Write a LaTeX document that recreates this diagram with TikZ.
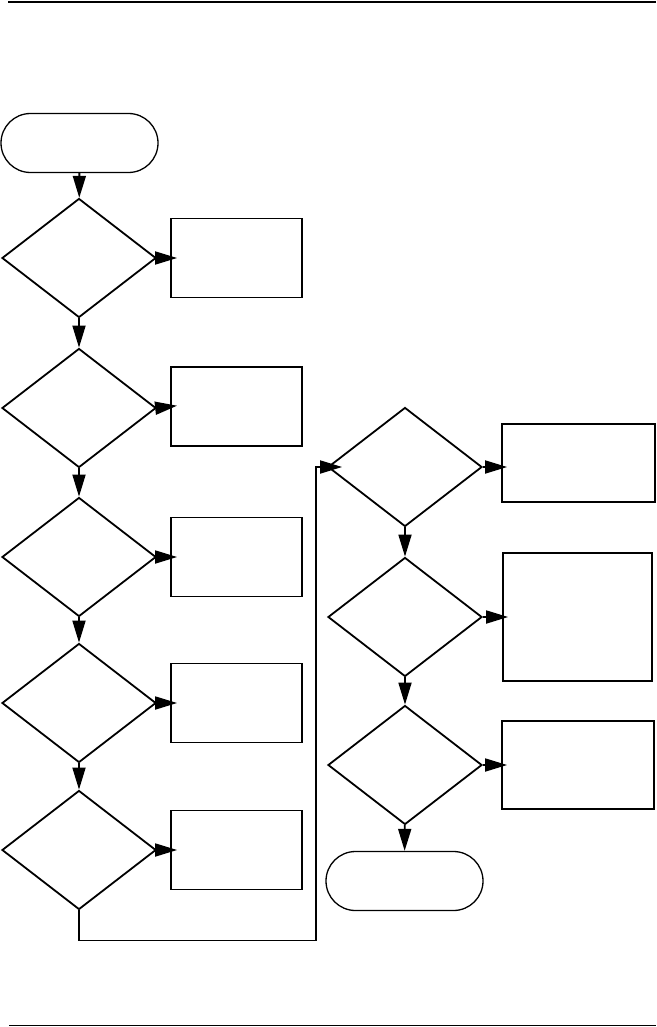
\documentclass[tikz,border=0pt]{standalone}
\usetikzlibrary{shapes.geometric,shapes.misc,arrows.meta}

\tikzset{
    terminal/.style={rounded rectangle, draw, line width=1.3pt, inner sep=0pt, minimum width=157pt, minimum height=59pt},
    decision/.style={diamond, draw, line width=1.8pt, inner sep=0pt, minimum width=154pt, minimum height=119pt},
    process/.style={rectangle, draw, line width=1.8pt, inner sep=0pt},
    flow/.style={line width=1.8pt, -{Triangle[length=22pt,width=13pt]}}
}

\begin{document}
\begin{tikzpicture}[x=1pt, y=-1pt]
    \useasboundingbox (0,0) rectangle (656,1027);

    % Reglas de la pagina
    \draw[line width=1.2pt] (8,2) -- (656,2);
    \draw[line width=1.2pt] (9,1025.5) -- (656,1025.5);

    % Columna izquierda
    \node[terminal] (inicio) at (79.5,143) {};
    \node[decision] (d1) at (79,258) {};
    \node[decision] (d2) at (79,408) {};
    \node[decision] (d3) at (79,557) {};
    \node[decision] (d4) at (79,703) {};
    \node[decision] (d5) at (79,850) {};

    \node[process, minimum width=131pt, minimum height=79pt] (b1) at (236.5,258) {};
    \node[process, minimum width=131pt, minimum height=79pt] (b2) at (236.5,406.5) {};
    \node[process, minimum width=131pt, minimum height=79pt] (b3) at (236.5,557) {};
    \node[process, minimum width=131pt, minimum height=79pt] (b4) at (236.5,703) {};
    \node[process, minimum width=131pt, minimum height=79pt] (b5) at (236.5,850) {};

    % Columna derecha
    \node[decision] (r1) at (405,467) {};
    \node[decision] (r2) at (405,617) {};
    \node[decision] (r3) at (405,765) {};
    \node[terminal] (fin) at (404.5,881) {};

    \node[process, minimum width=153pt, minimum height=78pt] (rb1) at (578.5,463) {};
    \node[process, minimum width=149pt, minimum height=128pt] (rb2) at (577.5,617) {};
    \node[process, minimum width=152pt, minimum height=88pt] (rb3) at (578,765) {};

    % Flechas hacia abajo
    \draw[flow] (inicio) -- (d1);
    \draw[flow] (d1) -- (d2);
    \draw[flow] (d2) -- (d3);
    \draw[flow] (d3) -- (d4);
    \draw[flow] (d4) -- (d5);
    \draw[flow] (r1) -- (r2);
    \draw[flow] (r2) -- (r3);
    \draw[flow] (r3) -- (fin);

    % Flechas hacia los rectangulos
    \foreach \i in {1,...,5}
        \draw[flow, shorten >=-7pt] (d\i.east) -- (b\i.west);
    \foreach \i in {1,2,3}
        \draw[flow, shorten >=-6pt] (r\i.east) -- (r\i.east -| rb\i.west);

    % Retorno a la columna derecha
    \coordinate (esq) at (316,940.5);
    \draw[flow, shorten >=-15pt] (d5.south) |- (esq) |- (r1.west);
\end{tikzpicture}
\end{document}
